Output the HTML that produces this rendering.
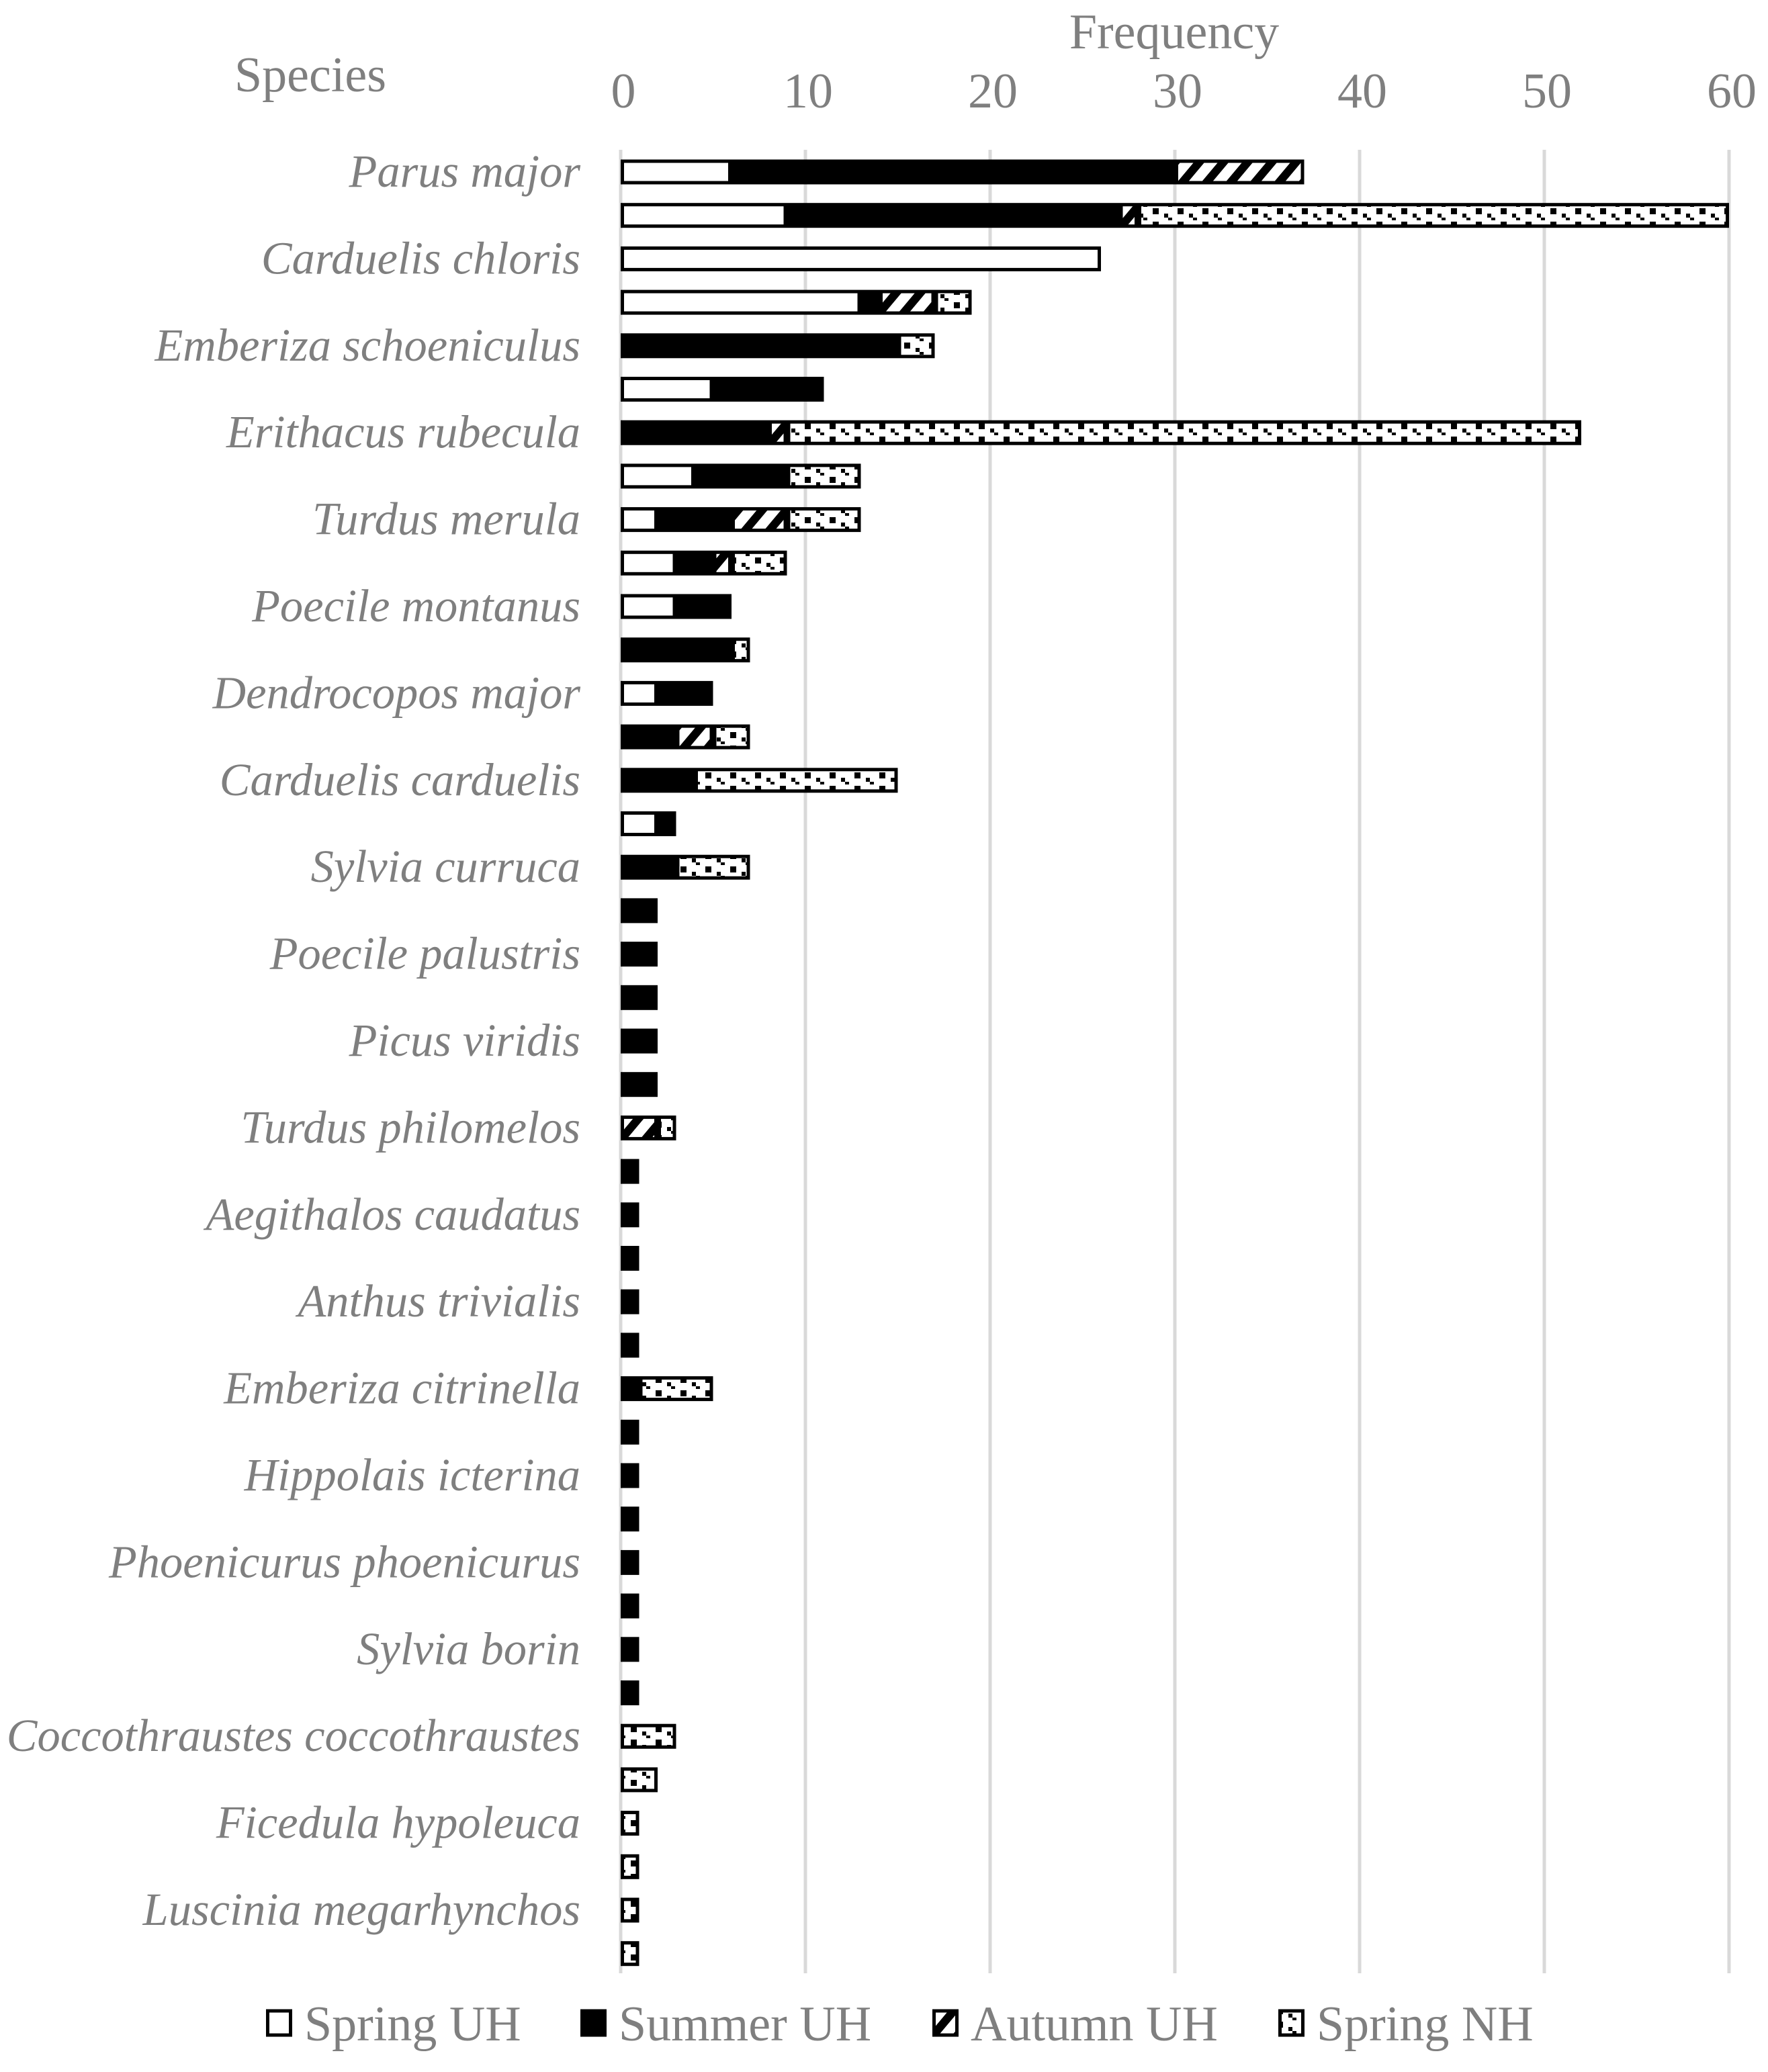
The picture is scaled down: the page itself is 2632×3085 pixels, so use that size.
<!DOCTYPE html>
<html><head><meta charset="utf-8"><style>
html,body{margin:0;padding:0;background:#fff;}
svg text{font-family:"Liberation Serif",serif;fill:#7f7f7f;}
</style></head><body>
<svg id="chart" width="2632" height="3080" viewBox="0 0 2632 3080" xmlns="http://www.w3.org/2000/svg">
<defs>
<pattern id="pAut" patternUnits="userSpaceOnUse" width="36" height="36" patternTransform="skewX(-40)">
<rect width="36" height="36" fill="#fff"/><rect x="0" width="16" height="36" fill="#000"/>
</pattern>
<pattern id="pNH" patternUnits="userSpaceOnUse" width="37" height="20" y="4">
<rect width="37" height="20" fill="#fff"/><rect x="14" y="6" width="9" height="9" fill="#000"/><rect x="0" y="0" width="6" height="4" fill="#000"/><rect x="31" y="14" width="6" height="6" fill="#000"/>
</pattern>
</defs>
<g id="grid"></g><g id="bars"></g><g id="labels"></g>
<text x="1748" y="72" font-size="74" text-anchor="middle">Frequency</text>
<text x="462" y="136" font-size="74" text-anchor="middle">Species</text>
<g id="legend"></g>
</svg>
<script>
const categories=["Parus major","","Carduelis chloris","","Emberiza schoeniculus","","Erithacus rubecula","","Turdus merula","","Poecile montanus","","Dendrocopos major","","Carduelis carduelis","","Sylvia curruca","","Poecile palustris","","Picus viridis","","Turdus philomelos","","Aegithalos caudatus","","Anthus trivialis","","Emberiza citrinella","","Hippolais icterina","","Phoenicurus phoenicurus","","Sylvia borin","","Coccothraustes coccothraustes","","Ficedula hypoleuca","","Luscinia megarhynchos",""];
const springUH=[6,9,26,13,0,5,0,4,2,3,3,0,2,0,0,2,0,0,0,0,0,0,0,0,0,0,0,0,0,0,0,0,0,0,0,0,0,0,0,0,0,0];
const summerUH=[24,18,0,1,15,6,8,5,4,2,3,6,3,3,4,1,3,2,2,2,2,2,0,1,1,1,1,1,1,1,1,1,1,1,1,1,0,0,0,0,0,0];
const autumnUH=[7,1,0,3,0,0,1,0,3,1,0,0,0,2,0,0,0,0,0,0,0,0,2,0,0,0,0,0,0,0,0,0,0,0,0,0,0,0,0,0,0,0];
const springNH=[0,32,0,2,2,0,43,4,4,3,0,1,0,2,11,0,4,0,0,0,0,0,1,0,0,0,0,0,4,0,0,0,0,0,0,0,3,2,1,1,1,1];
const ticks=[0,10,20,30,40,50,60];
const seriesNames=["Spring UH","Summer UH","Autumn UH","Spring NH"];
const NS="http://www.w3.org/2000/svg";
const X0=924,UNIT=27.5,Y0=256,ROW=64.7,BH=32;
const xs=v=>X0+v*UNIT, ys=i=>Y0+i*ROW;
function mk(t,a,p){const e=document.createElementNS(NS,t);for(const k in a)e.setAttribute(k,a[k]);p.appendChild(e);return e;}
const grid=document.getElementById('grid'),bars=document.getElementById('bars'),labels=document.getElementById('labels'),legend=document.getElementById('legend');
ticks.forEach(t=>{
 const l=mk('line',{x1:xs(t),x2:xs(t),y1:223,y2:2938,stroke:'#d9d9d9','stroke-width':5},grid);
 
 
 const tx=mk('text',{x:xs(t)+4,y:160,'font-size':74,'text-anchor':'middle'},grid);
 tx.textContent=t;
 
 
});
const fills=['#fff','#000','url(#pAut)','url(#pNH)'];
const series=[springUH,summerUH,autumnUH,springNH];
categories.forEach((c,i)=>{
 let acc=0;const y=ys(i);
 series.forEach((s,k)=>{
  const v=s[i];if(!v)return;
  const r=mk('rect',{x:xs(acc)+2.5,y:y-BH/2,width:v*UNIT-5,height:BH,fill:fills[k],stroke:'#000','stroke-width':5},bars);
  
  
  acc+=v;
 });
 if(c){
  const t=mk('text',{x:864,y:y+22,'font-size':68.5,'font-style':'italic','text-anchor':'end'},labels);
  t.textContent=c;
  
  
 }
});
const lx=[396,864,1388,1903];
seriesNames.forEach((n,k)=>{
 const g=mk('g',{},legend);
 
 
 mk('rect',{x:lx[k]+2.5,y:2994,width:34,height:36,fill:fills[k],stroke:'#000','stroke-width':5},g);
 const t=mk('text',{x:lx[k]+57,y:3038,'font-size':74},g);
 t.textContent=n;
});
</script>
</body></html>
